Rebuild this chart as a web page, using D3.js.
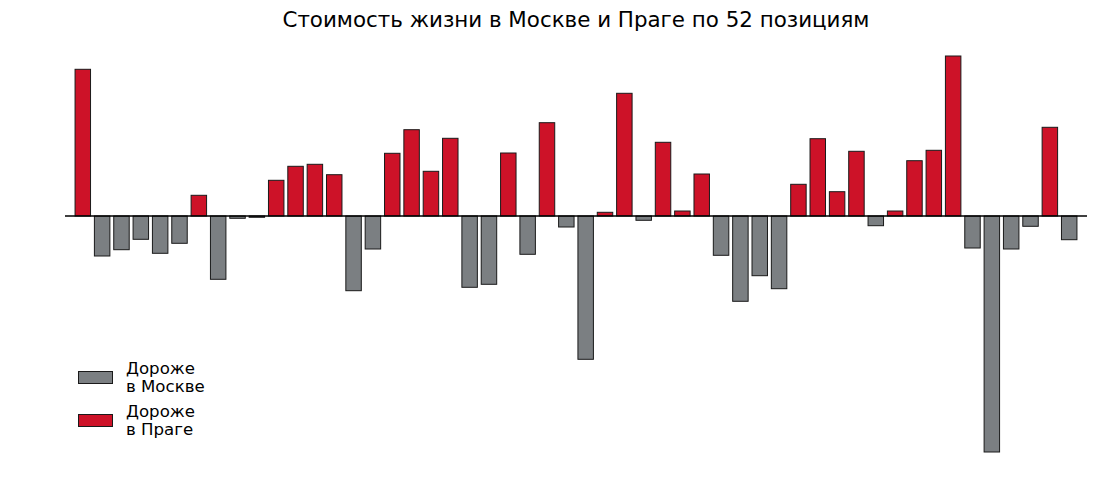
<!DOCTYPE html>
<html>
<head>
<meta charset="utf-8">
<script src="https://cdn.jsdelivr.net/npm/d3@7"></script>
<style>
  html, body { margin: 0; padding: 0; background: #fff; }
  svg { display: block; font-family: "DejaVu Sans", sans-serif; }
</style>
</head>
<body>
<svg id="chart" width="1100" height="484"></svg>
<script>
// Difference per item (positive = more expensive in Prague, negative = more expensive in Moscow)
const positions = d3.range(1, 53);
const values = [
  146.7, -40, -33.7, -23.3, -37.3, -27.3, 20.7, -63.3, -2.3, -1.3,
  35.7, 49.7, 51.7, 41.3, -74.7, -33, 62.7, 86.3, 44.7, 77.7,
  -71.3, -68.3, 63, -38.3, 93.3, -11, -143.3, 3.7, 122.7, -4.3,
  73.7, 5, 42, -39.3, -85.3, -59.7, -72.7, 31.7, 77.3, 24.3,
  64.7, -9.7, 5, 55.3, 65.7, 160, -32, -236, -33, -10.3,
  88.7, -23.7
];
const title = "Стоимость жизни в Москве и Праге по 52 позициям";
const legendLabels = [["Дороже", "в Москве"], ["Дороже", "в Праге"]];
const colors = { moscow: "#7b7f82", prague: "#cd1228" };

const svg = d3.select("#chart");
const x = d3.scaleBand().domain(positions).range([65, 1087]).paddingInner(0.2).paddingOuter(0.52);
const y = d3.scaleLinear().domain([-236, 160]).range([452, 56]);

svg.append("text")
  .attr("x", 576).attr("y", 27)
  .attr("text-anchor", "middle")
  .attr("font-size", 21.4)
  .attr("fill", "#000")
  .text(title);

svg.append("g").selectAll("rect")
  .data(values)
  .join("rect")
  .attr("x", (d, i) => x(positions[i]))
  .attr("width", x.bandwidth())
  .attr("y", d => y(Math.max(0, d)))
  .attr("height", d => Math.abs(y(d) - y(0)))
  .attr("fill", d => d >= 0 ? colors.prague : colors.moscow)
  .attr("stroke", "#1a1a1a")
  .attr("stroke-width", 1);

svg.append("line")
  .attr("x1", 65).attr("x2", 1087)
  .attr("y1", y(0)).attr("y2", y(0))
  .attr("stroke", "#000").attr("stroke-width", 1.3);

const legend = svg.append("g");
const legendItems = [
  { color: colors.moscow, lines: legendLabels[0], cy: 377.5, base: 374 },
  { color: colors.prague, lines: legendLabels[1], cy: 420.5, base: 416.8 }
];
legendItems.forEach(it => {
  legend.append("rect")
    .attr("x", 78.5).attr("y", it.cy - 6)
    .attr("width", 34).attr("height", 12)
    .attr("fill", it.color)
    .attr("stroke", "#1a1a1a").attr("stroke-width", 1);
  const t = legend.append("text")
    .attr("x", 126).attr("y", it.base)
    .attr("font-size", 16.6).attr("fill", "#000");
  t.append("tspan").attr("x", 126).attr("dy", 0).text(it.lines[0]);
  t.append("tspan").attr("x", 126).attr("dy", 18.2).text(it.lines[1]);
});
</script>
</body>
</html>
